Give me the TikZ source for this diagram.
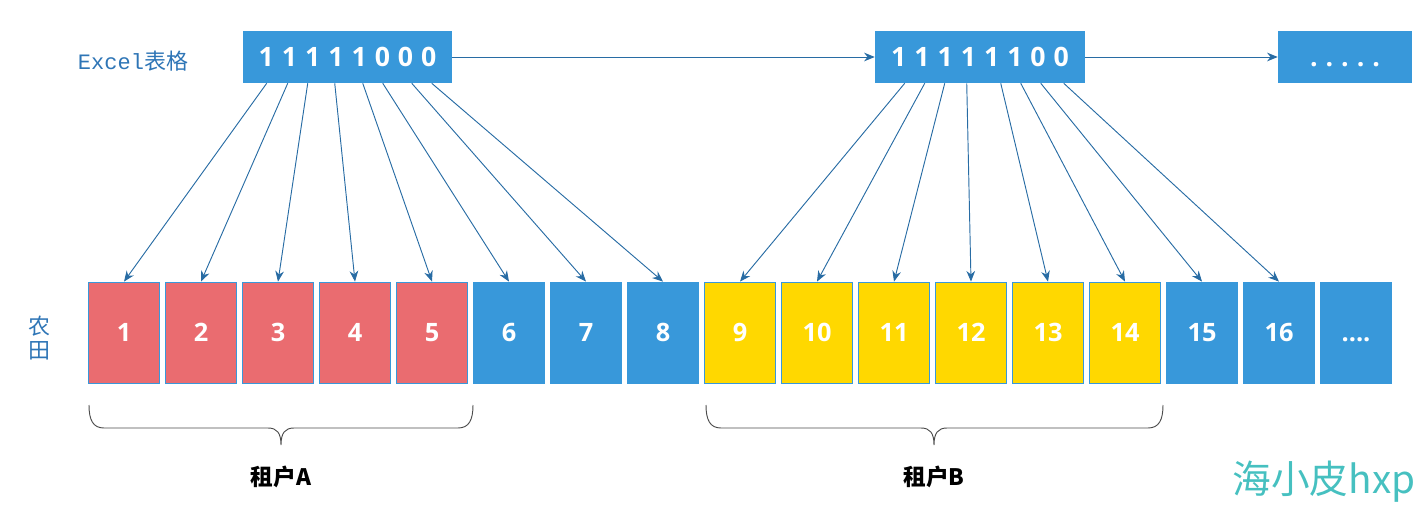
\documentclass[tikz,border=0pt]{standalone}
\usepackage{fontspec}
\setmainfont{Open Sans}
\newfontfamily\cjk{Noto Sans CJK SC}
\newfontfamily\monof{Liberation Mono}
\usetikzlibrary{arrows.meta,calc}
\definecolor{cellblue}{RGB}{56,152,218}
\definecolor{cellred}{RGB}{234,108,112}
\definecolor{cellyellow}{RGB}{255,216,0}
\definecolor{arrowblue}{RGB}{40,108,164}
\definecolor{labelblue}{RGB}{46,117,182}
\definecolor{teal}{RGB}{70,192,192}
\begin{document}
\begin{tikzpicture}[x=0.75pt,y=-0.75pt,
  topbox/.style={fill=cellblue, draw=none, minimum height=52*0.75pt, inner sep=0,
    text=white, font=\fontsize{20}{23}\selectfont\bfseries\addfontfeatures{LetterSpace=30}},
  cell/.style={draw=cellblue, line width=0.6pt, minimum width=71*0.75pt, minimum height=101*0.75pt,
    inner sep=0, text=white, font=\fontsize{19}{22}\selectfont\bfseries},
  link/.style={draw=arrowblue, line width=0.7pt, -{Stealth[length=8pt,width=6.5pt]}},
  bracestyle/.style={draw=black!70, line width=0.7pt},
  tenant/.style={font=\cjk\bfseries\fontsize{17}{20}\selectfont}
]
\useasboundingbox (0,0) rectangle (1424,514);

% top boxes
\node[topbox, minimum width=209*0.75pt] (A) at (347.5,57) {11111000};
\node[topbox, minimum width=210*0.75pt] (B) at (980,57) {11111100};
\node[topbox, minimum width=134*0.75pt] (C) at (1345,57) {\vphantom{1}.....};
\draw[link] (A) -- (B);
\draw[link] (B) -- (C);

% left labels
\node[text=labelblue, font=\fontsize{16.5}{19}\selectfont] (excel) at (133,61) {\monof Excel\cjk 表格};
\node[text=labelblue, font=\cjk\fontsize{16.5}{19}\selectfont, align=center, inner sep=0] (field) at (39,338) {农\\[-1pt]田};

% cells
\foreach \i in {1,...,17}{
  \ifnum\i<6 \def\cc{cellred}\else
    \ifnum\i<9 \def\cc{cellblue}\else
      \ifnum\i<15 \def\cc{cellyellow}\else \def\cc{cellblue}\fi\fi\fi
  \ifnum\i=17 \def\tt{\vphantom{1}....}\else \edef\tt{\i}\fi
  \node[cell, fill=\cc] (c\i) at ({124+77*(\i-1)},332.5) {\tt};
}

% arrows from A
\foreach \off [count=\k] in {24,45,65,92,120,140,169,189}{
  \coordinate (a\k) at ($(A.south west)+(\off,0)$);
  \draw[link] (a\k) -- (c\k.north);
}
% arrows from B
\foreach \off [count=\k] in {30,50,70,92,126,146,166,189}{
  \pgfmathtruncatemacro\t{\k+8}
  \coordinate (b\k) at ($(B.south west)+(\off,0)$);
  \draw[link] (b\k) -- (c\t.north);
}

% braces
\draw[bracestyle] (89,405) .. controls (89,420) and (93,428) .. (104,428)
  -- (268,428) .. controls (277,428) and (281,433) .. (281,445)
  .. controls (281,433) and (285,428) .. (294,428)
  -- (458,428) .. controls (469,428) and (473,420) .. (473,405);
\draw[bracestyle] (706,405) .. controls (706,420) and (710,428) .. (721,428)
  -- (921,428) .. controls (930,428) and (934,433) .. (934,445)
  .. controls (934,433) and (938,428) .. (947,428)
  -- (1148,428) .. controls (1159,428) and (1163,420) .. (1163,405);

\node[tenant] (ta) at (281,477) {租户A};
\node[tenant] (tb) at (934,477) {租户B};
\node[text=teal, font=\cjk\fontsize{29}{32}\selectfont] (wm) at (1324,482) {海小皮hxp};
\end{tikzpicture}
\end{document}
